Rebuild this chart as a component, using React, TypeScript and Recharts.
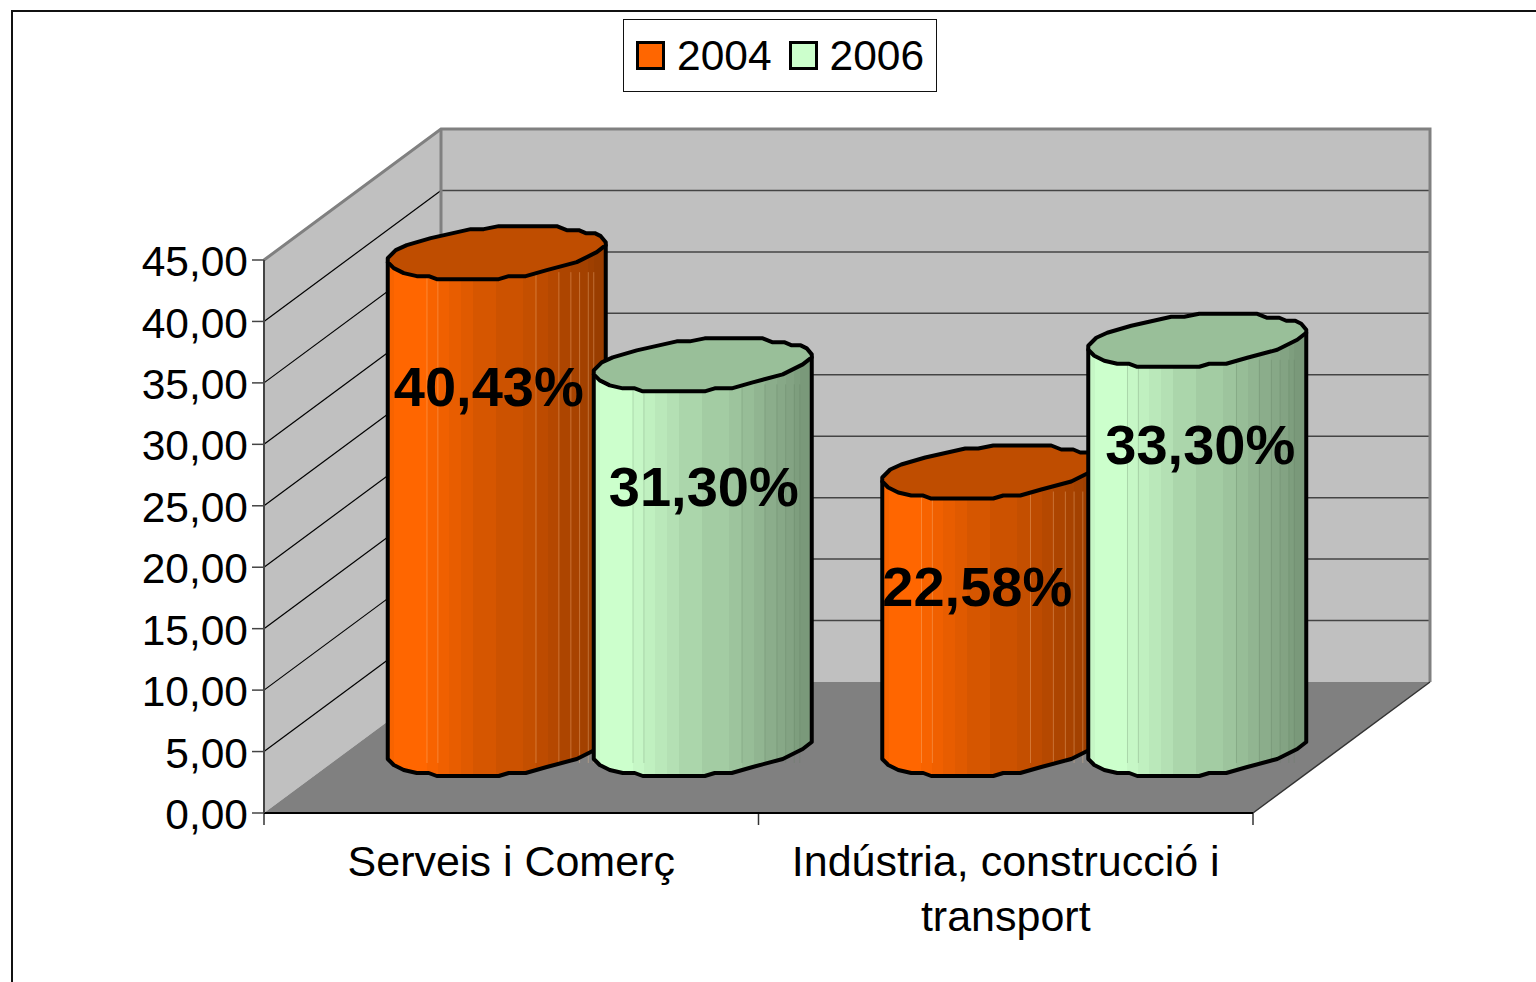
import { BarChart, Bar, XAxis, YAxis, Legend, LabelList, usePlotArea } from 'recharts';

const FONT = '"Liberation Sans", Arial, sans-serif';

const categories = ['Serveis i Comerç', 'Indústria, construcció i\ntransport'];
const values2004 = [40.43, 22.58];
const values2006 = [31.3, 33.3];
const yTicks = [0, 5, 10, 15, 20, 25, 30, 35, 40, 45];

const data = categories.map((name, i) => ({ name, v2004: values2004[i], v2006: values2006[i] }));

// 3D look of the old spreadsheet chart: how far the back wall sits from the front plane
const DEPTH_X = 177;
const DEPTH_Y = 131;
const BAR_DX = 88.75;
const BAR_DY = 64;

// outline of the cylinder cap, relative to its centre (it is a rough polygon in the original)
const CAP_UPPER = [[-109, 6], [-101, -2], [-90, -7], [-66, -14], [-26, -23], [-13, -23], [2, -26], [60, -26], [70, -22], [82, -22], [89, -19], [98, -19], [104, -16], [109, -10], [109, -7]];
const CAP_LOWER = [[109, -7], [100, 0], [80, 10], [50, 18], [29, 24], [12, 24], [2, 27], [-60, 27], [-68, 24], [-80, 24], [-93, 21], [-103, 16], [-109, 10]];

// shading bands across the cylinder: [end of band 0..1, brightness]
const BANDS = [
  [0.03, 0.97], [0.18, 1], [0.23, 0.97], [0.28, 0.94], [0.335, 0.91], [0.39, 0.88], [0.495, 0.84], [0.62, 0.8],
  [0.68, 0.77], [0.735, 0.74], [0.785, 0.71], [0.84, 0.68], [0.88, 0.66], [0.92, 0.64], [0.945, 0.62], [1, 0.6],
];
const SEAMS = [0.18, 0.23, 0.68, 0.785, 0.84, 0.88, 0.92, 0.945];

const mix = (rgb: number[], k: number) => `rgb(${rgb.map(c => Math.round(c * k)).join(',')})`;

const ORANGE = [255, 102, 0];
const GREEN = [204, 255, 204];

// label spot relative to the cap centre, they were moved by hand in the original
const LABEL_NUDGE: Record<string, number[][]> = {
  v2004: [[-8, 154], [-14, 134]],
  v2006: [[1, 142], [3, 124]],
};

function pts(list: number[][], cx: number, cy: number) {
  return list.map(([a, b]) => `${cx + a},${cy + b}`).join(' L');
}

function makeCylinder(id: string, rgb: number[], seam: string) {
  return function Cylinder(props: any) {
    const { x, y, width, height } = props;
    const cx = x + width / 2 + BAR_DX;
    const top = y - BAR_DY;
    const bottom = y + height - BAR_DY;
    const body = `M${cx - 109},${top + 10} L${pts([...CAP_LOWER].reverse(), cx, bottom)} L${cx + 109},${top - 7} Z`;
    const cap = `M${pts([...CAP_UPPER, ...CAP_LOWER.slice(1)], cx, top)} Z`;
    return (
      <g>
        <defs>
          <linearGradient id={id} x1="0" x2="1" y1="0" y2="0">
            {BANDS.map(([end, k], i) => {
              const start = i === 0 ? 0 : BANDS[i - 1][0];
              return [
                <stop key={`a${i}`} offset={start} stopColor={mix(rgb, k)} />,
                <stop key={`b${i}`} offset={end} stopColor={mix(rgb, k)} />,
              ];
            })}
          </linearGradient>
        </defs>
        <path d={body} fill={`url(#${id})`} />
        {SEAMS.map(t => (
          <line key={t} x1={cx - 109 + 218 * t} x2={cx - 109 + 218 * t} y1={top + 20} y2={bottom + 14} stroke={seam} strokeWidth={1} />
        ))}
        <path d={body} fill="none" stroke="#000" strokeWidth={4} strokeLinejoin="round" />
        <path d={cap} fill={mix(rgb, 0.75)} stroke="#000" strokeWidth={4} strokeLinejoin="round" />
      </g>
    );
  };
}

function makeBarLabel(key: string) {
  return function BarLabel(props: any) {
    const { x, y, width, value, index } = props;
    const [dx, dy] = LABEL_NUDGE[key][index];
    return (
      <text x={x + width / 2 + BAR_DX + dx} y={y - BAR_DY + dy} textAnchor="middle" fontFamily={FONT} fontWeight="bold" fontSize={56} fill="#000">
        {`${value.toFixed(2).replace('.', ',')}%`}
      </text>
    );
  };
}

function Walls() {
  const plot = usePlotArea();
  if (!plot) return null;
  const left = plot.x;
  const right = plot.x + plot.width;
  const bottom = plot.y + plot.height;
  const top = plot.y;
  const tickY = (v: number) => bottom - (v / 45) * plot.height;
  const bx = DEPTH_X;
  const by = DEPTH_Y;
  return (
    <g>
      <polygon points={`${left},${top} ${left + bx},${top - by} ${right + bx},${top - by} ${right + bx},${bottom - by} ${left + bx},${bottom - by} ${left},${bottom}`} fill="#c0c0c0" />
      <polygon points={`${left},${bottom} ${left + bx},${bottom - by} ${right + bx},${bottom - by} ${right},${bottom}`} fill="#808080" />
      {yTicks.slice(1, -1).map(v => (
        <g key={v}>
          <line x1={left} y1={tickY(v)} x2={left + bx} y2={tickY(v) - by} stroke="#000" strokeWidth={1.2} />
          <line x1={left + bx} y1={tickY(v) - by} x2={right + bx} y2={tickY(v) - by} stroke="#444" strokeWidth={1.5} />
        </g>
      ))}
      <polyline points={`${left},${top} ${left + bx},${top - by} ${right + bx},${top - by} ${right + bx},${bottom - by}`} fill="none" stroke="#808080" strokeWidth={3} />
      <line x1={left + bx} y1={top - by} x2={left + bx} y2={bottom - by} stroke="#808080" strokeWidth={3} />
      <line x1={right} y1={bottom} x2={right + bx} y2={bottom - by} stroke="#333" strokeWidth={1.5} />
      {[0, 1, 2].map(i => {
        const tx = left + (i * plot.width) / categories.length;
        return <line key={i} x1={tx} x2={tx} y1={bottom} y2={bottom + 12} stroke="#333" strokeWidth={1.5} />;
      })}
    </g>
  );
}

function CategoryTick(props: any) {
  const { x, y, payload } = props;
  return (
    <text x={x} y={y + 54.5} textAnchor="middle" fontFamily={FONT} fontSize={43} fill="#000">
      {String(payload.value).split('\n').map((line, i) => (
        <tspan key={i} x={x} dy={i === 0 ? 0 : 55}>{line}</tspan>
      ))}
    </text>
  );
}

function ChartLegend({ payload }: any) {
  return (
    <div
      style={{
        boxSizing: 'border-box', width: 314, height: 73, border: '1.5px solid #111', background: '#fff',
        display: 'flex', alignItems: 'center', paddingLeft: 12, fontFamily: FONT, fontSize: 42.5, color: '#000',
      }}
    >
      {(payload || []).map((p: any) => (
        <div key={p.value} style={{ display: 'flex', alignItems: 'center', marginRight: 17 }}>
          <span style={{ boxSizing: 'border-box', width: 29, height: 29, border: '3px solid #000', background: p.color, marginRight: 12 }} />
          <span>{p.value}</span>
        </div>
      ))}
    </div>
  );
}

export default function App() {
  return (
    <div style={{ position: 'absolute', left: 0, top: 0, width: 1536, height: 982, overflow: 'hidden', background: '#fff' }}>
      <div style={{ position: 'absolute', left: 11, top: 10, right: -5, bottom: -5, borderTop: '2px solid #111', borderLeft: '2px solid #111' }} />
      <div style={{ position: 'absolute', left: 0, top: 0 }}>
        <BarChart
          width={1536}
          height={982}
          data={data}
          margin={{ top: 260, right: 283, bottom: 69, left: 144 }}
          barGap={0}
          barSize={206}
        >
          <Walls />
          <XAxis
            dataKey="name"
            height={100}
            axisLine={{ stroke: '#000', strokeWidth: 2 }}
            tickLine={false}
            interval={0}
            tick={<CategoryTick />}
          />
          <YAxis
            width={120}
            domain={[0, 45]}
            ticks={yTicks}
            axisLine={{ stroke: '#444', strokeWidth: 2 }}
            tickLine={{ stroke: '#444', strokeWidth: 1.5 }}
            tickSize={12}
            tickMargin={4}
            tickFormatter={(v: number) => v.toFixed(2).replace('.', ',')}
            tick={{ fontFamily: FONT, fontSize: 42.5, fill: '#000', dy: 1 }}
          />
          <Legend
            layout="horizontal"
            verticalAlign="middle"
            align="center"
            wrapperStyle={{ left: 623, top: 19, width: 314, height: 73 }}
            content={<ChartLegend />}
          />
          <Bar dataKey="v2004" name="2004" fill="#ff6600" isAnimationActive={false} shape={makeCylinder('cyl2004', ORANGE, 'rgba(255,200,150,0.35)')}>
            <LabelList dataKey="v2004" content={makeBarLabel('v2004')} />
          </Bar>
          <Bar dataKey="v2006" name="2006" fill="#ccffcc" isAnimationActive={false} shape={makeCylinder('cyl2006', GREEN, 'rgba(90,120,90,0.25)')}>
            <LabelList dataKey="v2006" content={makeBarLabel('v2006')} />
          </Bar>
        </BarChart>
      </div>
    </div>
  );
}
